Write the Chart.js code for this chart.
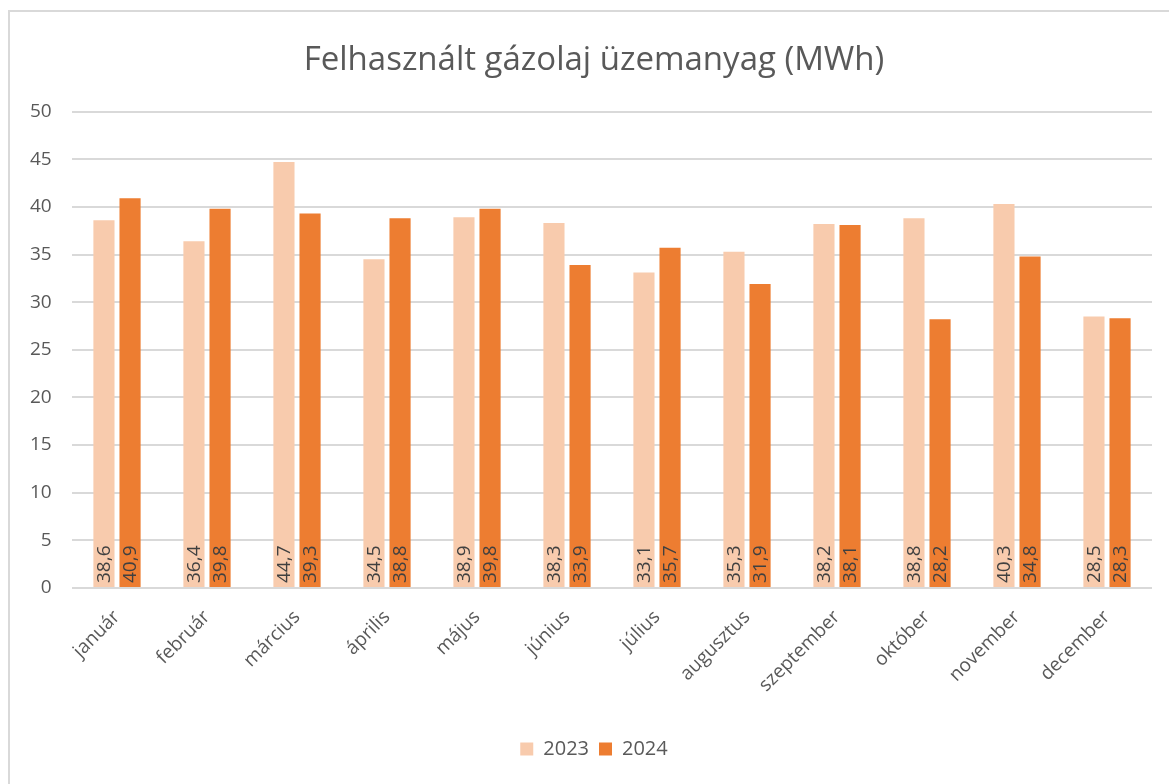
<!DOCTYPE html>
<html>
<head>
<meta charset="utf-8">
<script src="https://cdn.jsdelivr.net/npm/chart.js@4"></script>
<style>
  html, body { margin: 0; padding: 0; overflow: hidden; background: #fff; }
  #frame { position: absolute; left: 8px; top: 10px; width: 1200px; height: 800px; border: 2px solid #d9d9d9; }
  #wrap { position: absolute; left: 0; top: 0; width: 1169px; height: 784px; }
</style>
</head>
<body>
<div id="frame"></div>
<div id="wrap"><canvas id="gasChart"></canvas></div>
<script>
// Felhasznált gázolaj
var months = ['január', 'február', 'március', 'április', 'május', 'június', 'július', 'augusztus', 'szeptember', 'október', 'november', 'december'];
var values2023 = [38.6, 36.4, 44.7, 34.5, 38.9, 38.3, 33.1, 35.3, 38.2, 38.8, 40.3, 28.5];
var values2024 = [40.9, 39.8, 39.3, 38.8, 39.8, 33.9, 35.7, 31.9, 38.1, 28.2, 34.8, 28.3];
var yTicks = [0, 5, 10, 15, 20, 25, 30, 35, 40, 45, 50];

var fontFamily = '"Open Sans", "Noto Sans", sans-serif';

// value labels, vertical, at the base of each bar
var barLabels = {
    id: 'barLabels',
    afterDatasetsDraw: function (chart) {
        var ctx = chart.ctx;
        ctx.save();
        ctx.font = '19px ' + fontFamily;
        ctx.fillStyle = '#404040';
        ctx.textAlign = 'left';
        ctx.textBaseline = 'middle';
        chart.data.datasets.forEach(function (ds, i) {
            chart.getDatasetMeta(i).data.forEach(function (bar, j) {
                var txt = ds.data[j].toFixed(1).replace('.', ',');
                ctx.save();
                ctx.translate(bar.x + 1, bar.base - 4);
                ctx.rotate(-Math.PI / 2);
                ctx.fillText(txt, 0, 0);
                ctx.restore();
            });
        });
        ctx.restore();
    }
};

var ctx = document.getElementById('gasChart').getContext('2d');
var gasChart = new Chart(ctx, {
    type: 'bar',
    data: {
        labels: months,
        datasets: [{
            label: '2023',
            data: values2023,
            backgroundColor: '#F8CBAD',
            categoryPercentage: 0.58,
            barPercentage: 0.81
        }, {
            label: '2024',
            data: values2024,
            backgroundColor: '#ED7D31',
            categoryPercentage: 0.58,
            barPercentage: 0.81
        }]
    },
    options: {
        responsive: true,
        maintainAspectRatio: false,
        animation: false,
        layout: {
            padding: { top: 41, right: 17, bottom: 15, left: 36 }
        },
        scales: {
            x: {
                afterFit: function (scale) { scale.height = 141; },
                grid: { display: false },
                border: { display: false },
                ticks: {
                    color: '#595959',
                    font: { family: fontFamily, size: 19 },
                    minRotation: 45,
                    maxRotation: 45,
                    padding: 10
                }
            },
            y: {
                min: 0,
                max: 50,
                afterBuildTicks: function (scale) {
                    scale.ticks = yTicks.map(function (v) { return { value: v }; });
                },
                afterFit: function (scale) { scale.width = 36; },
                grid: { color: '#d9d9d9', lineWidth: 2, drawTicks: false },
                border: { display: false },
                ticks: {
                    color: '#595959',
                    font: { family: fontFamily, size: 19 },
                    // mirrored so the labels are not clipped to the narrow axis box
                    mirror: true,
                    crossAlign: 'far',
                    padding: -42
                }
            }
        },
        plugins: {
            title: {
                display: true,
                text: 'Felhasznált gázolaj üzemanyag (MWh)',
                color: '#595959',
                font: { family: fontFamily, size: 33, weight: 'normal' },
                padding: { top: 0, bottom: 31 }
            },
            legend: {
                position: 'bottom',
                labels: {
                    color: '#595959',
                    font: { family: fontFamily, size: 20 },
                    boxWidth: 13,
                    boxHeight: 13,
                    padding: 10
                }
            },
            tooltip: { enabled: false }
        }
    },
    plugins: [barLabels]
});
</script>
</body>
</html>
